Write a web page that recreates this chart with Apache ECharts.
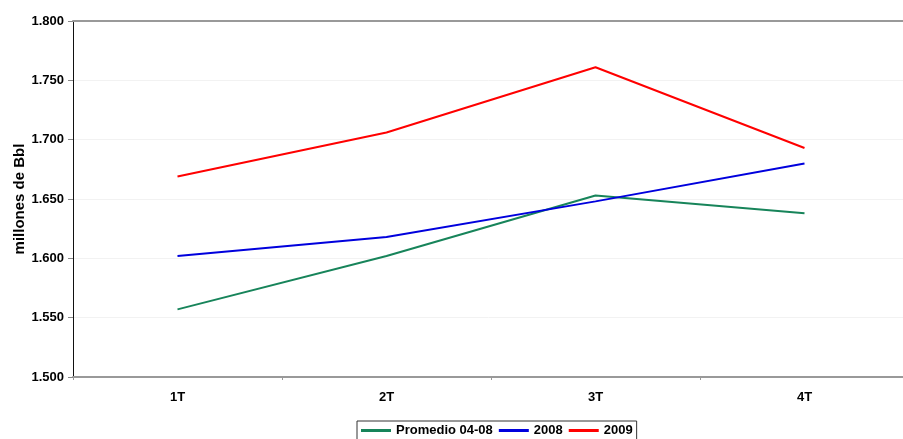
<!DOCTYPE html>
<html>
<head>
<meta charset="utf-8">
<script src="https://cdn.jsdelivr.net/npm/echarts@6/dist/echarts.min.js"></script>
<style>
html,body{margin:0;padding:0;background:#fff;}
#c{width:903px;height:439px;}
</style>
</head>
<body>
<div id="c"></div>
<script>
var categories = ['1T', '2T', '3T', '4T'];
var seriesNames = ['Promedio 04-08', '2008', '2009'];
var promedio = [1557, 1602, 1653, 1638];
var s2008 = [1602, 1618, 1648, 1680];
var s2009 = [1669, 1706, 1761, 1693];
var yMin = 1500, yMax = 1800, yStep = 50;
var yName = 'millones de Bbl';

var font = 'Liberation Sans, Arial, sans-serif';
var chart = echarts.init(document.getElementById('c'), null, {renderer: 'canvas'});
function mk(name, data, color) {
  return {
    name: name, type: 'line', data: data, symbol: 'none', showSymbol: false,
    lineStyle: {color: color, width: 2}, itemStyle: {color: color}, animation: false
  };
}
chart.setOption({
  animation: false,
  backgroundColor: '#fff',
  grid: {left: 73, top: 21, bottom: 62, width: 836, containLabel: false, outerBoundsMode: 'none'},
  legend: {
    data: seriesNames,
    left: 357, top: 421,
    orient: 'horizontal',
    icon: 'rect',
    borderColor: '#333', borderWidth: 1,
    padding: [3, 4, 3, 4],
    itemGap: 6, itemWidth: 30, itemHeight: 3,
    textStyle: {fontFamily: font, fontWeight: 'bold', fontSize: 13, color: '#000'}
  },
  xAxis: [{
    type: 'category', data: categories, boundaryGap: true,
    axisLine: {show: true, lineStyle: {color: '#999', width: 2}},
    axisTick: {show: true, length: 3, lineStyle: {color: '#999'}},
    axisLabel: {fontFamily: font, fontWeight: 'bold', fontSize: 13, color: '#000', margin: 14},
    splitLine: {show: false}
  }, {
    type: 'category', data: categories, position: 'top',
    axisLine: {show: true, lineStyle: {color: '#999', width: 2}},
    axisTick: {show: false}, axisLabel: {show: false}, splitLine: {show: false}
  }],
  yAxis: {
    type: 'value', min: yMin, max: yMax, interval: yStep,
    name: yName, nameLocation: 'middle', nameGap: 46, nameRotate: 90, nameMoveOverlap: false,
    nameTextStyle: {fontFamily: font, fontWeight: 'bold', fontSize: 15, color: '#000'},
    axisLine: {show: true, lineStyle: {color: '#111', width: 1}},
    axisTick: {show: true, length: 5, lineStyle: {color: '#888'}},
    axisLabel: {
      fontFamily: font, fontWeight: 'bold', fontSize: 13, color: '#000', margin: 9,
      formatter: function (v) { return (v / 1000).toFixed(3); }
    },
    splitLine: {show: true, lineStyle: {color: '#f2f2f2', width: 1}}
  },
  series: [
    mk(seriesNames[0], promedio, '#17845a'),
    mk(seriesNames[1], s2008, '#0000dd'),
    mk(seriesNames[2], s2009, '#ff0000')
  ]
});
</script>
</body>
</html>
